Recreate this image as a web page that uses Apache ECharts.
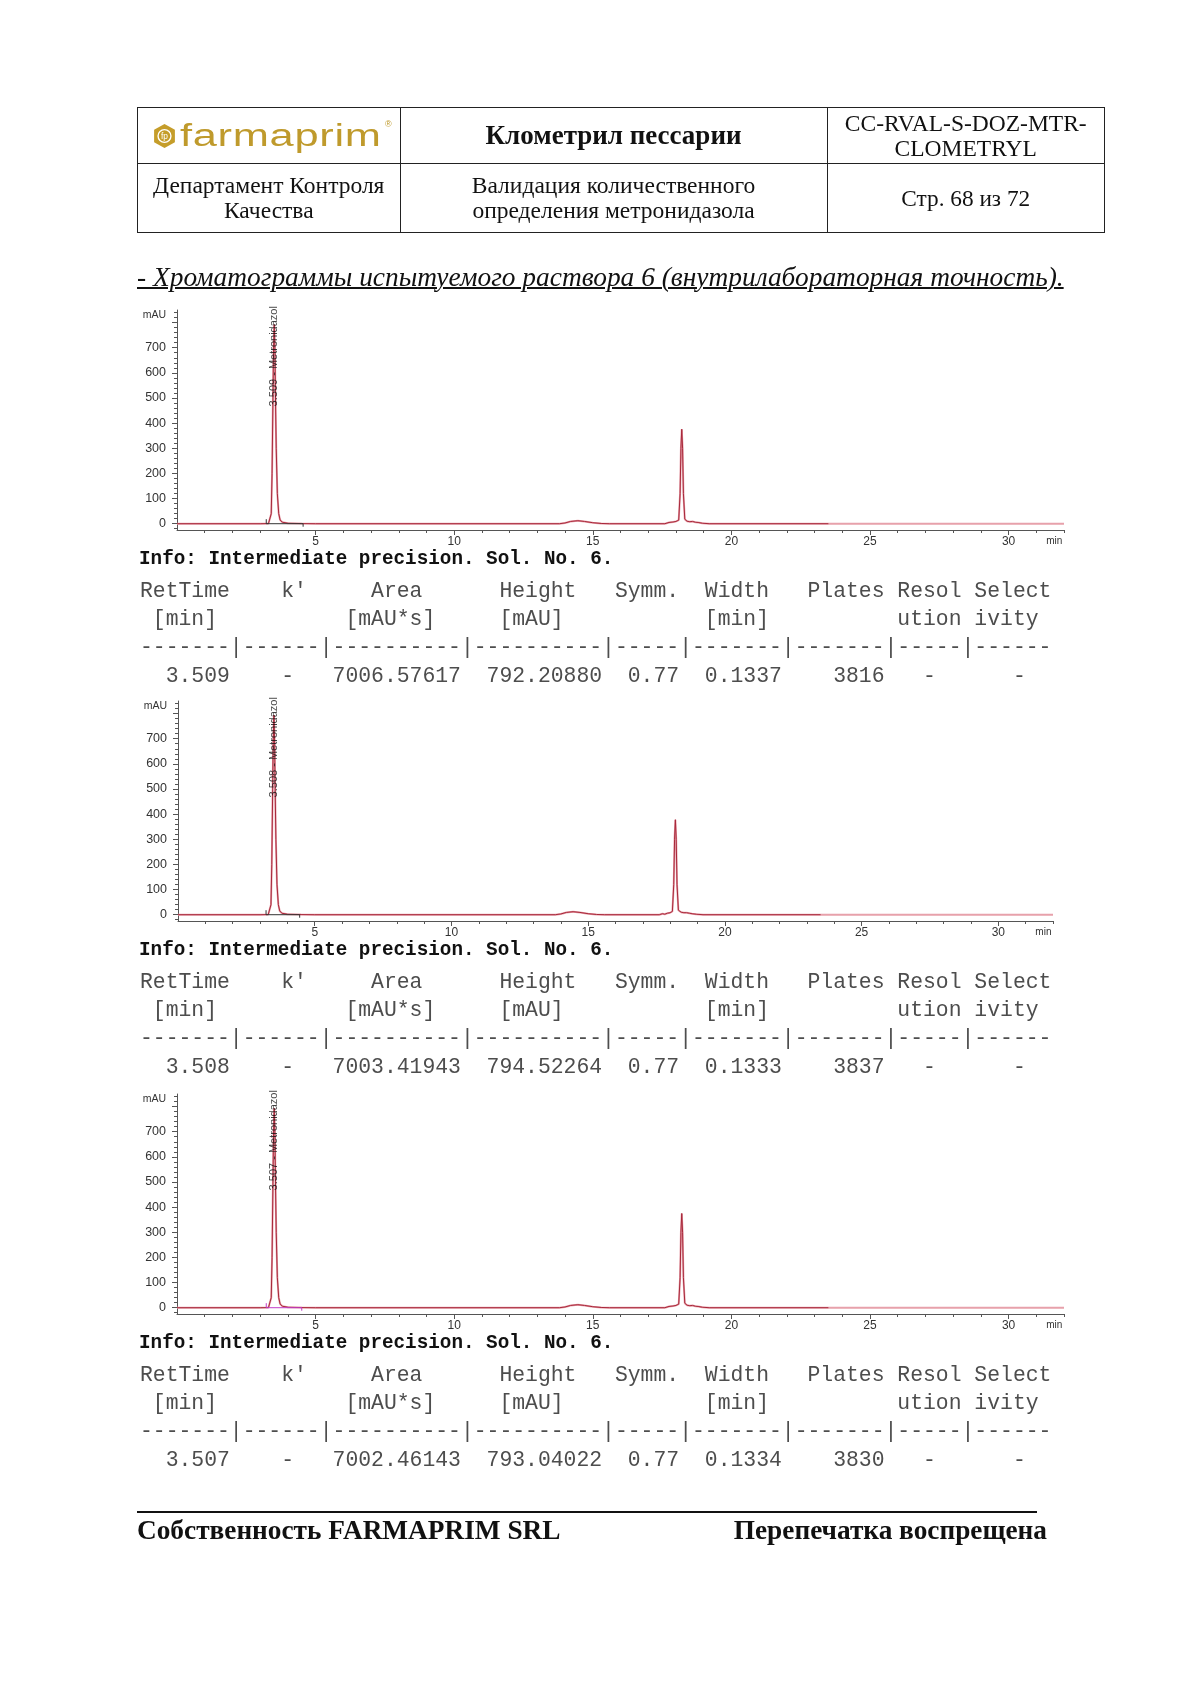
<!DOCTYPE html>
<html>
<head>
<meta charset="utf-8">
<script src="https://cdn.jsdelivr.net/npm/echarts@6/dist/echarts.min.js"></script>
<style>
  html, body { margin:0; padding:0; background:#fff; }
  body { width:1192px; height:1684px; position:relative; overflow:hidden; }
  #chart { position:absolute; left:0; top:0; width:1192px; height:1684px; }
  .abs { position:absolute; }
  table.hdr { position:absolute; left:137px; top:107px; width:968px; border-collapse:collapse; font-family:"Liberation Serif","Times New Roman",serif; color:#111; }
  table.hdr td { border:1.5px solid #222; text-align:center; padding:0; white-space:nowrap; }
  .serif { font-family:"Liberation Serif","Times New Roman",serif; color:#111; }
  .mono { font-family:"Liberation Mono","Courier New",monospace; white-space:pre; margin:0; position:absolute; }
  .row { font-size:21.4px; line-height:24px; color:#4d4d4d; left:140px; }
  .info { font-size:19.3px; line-height:24px; font-weight:bold; color:#111; left:139px; }
</style>
</head>
<body>
<div id="chart"></div>

<table class="hdr">
  <tr style="height:56px">
    <td style="width:262px">
      <div style="position:relative;display:flex;align-items:center;justify-content:flex-start;height:54px;padding-left:15px">
        <svg width="23" height="26" viewBox="0 0 22 25" style="margin-right:4px">
          <polygon points="11,1 21,6.5 21,18.5 11,24 1,18.5 1,6.5" fill="#c59d2a"/>
          <circle cx="11" cy="12.5" r="6.2" fill="none" stroke="#fff" stroke-width="1.3"/>
          <text x="11" y="15.5" text-anchor="middle" font-family="Liberation Sans" font-size="8" fill="#fff">fp</text>
        </svg>
        <span id="logo" style="display:inline-block;font-family:'Liberation Sans',sans-serif;font-size:31px;color:#bf9a2c;transform:scaleX(1.4);transform-origin:left center;letter-spacing:0.5px;text-align:left;font-weight:normal">farmaprim</span>
        <span style="position:absolute;left:247px;top:10px;font-family:'Liberation Sans';font-size:9px;color:#bf9a2c">®</span>
      </div>
    </td>
    <td style="width:428px;font-size:27px;font-weight:bold">Клометрил пессарии</td>
    <td style="width:277px;font-size:23.5px;line-height:25px">CC-RVAL-S-DOZ-MTR-<br>CLOMETRYL</td>
  </tr>
  <tr style="height:69px">
    <td style="font-size:23.5px;line-height:25px">Департамент Контроля<br>Качества</td>
    <td style="font-size:23.5px;line-height:25px">Валидация количественного<br>определения метронидазола</td>
    <td style="font-size:23.3px">Стр. 68 из 72</td>
  </tr>
</table>

<div class="abs serif" style="left:137px;top:261px;font-size:27.4px;line-height:32px;font-style:italic;text-decoration:underline;text-decoration-thickness:1.5px;white-space:nowrap">- Хроматограммы испытуемого раствора 6 (внутрилабораторная точность).</div>

<div id="tables"></div>

<div class="abs" style="left:137px;top:1511px;width:900px;border-top:2px solid #111"></div>
<div class="abs serif" style="left:137px;top:1515px;font-size:27.3px;line-height:30px;font-weight:bold;white-space:nowrap">Собственность FARMAPRIM SRL</div>
<div class="abs serif" style="right:145px;top:1515px;font-size:27.3px;line-height:30px;font-weight:bold;white-space:nowrap">Перепечатка воспрещена</div>

<script>
// ---------------- DATA ----------------
const compoundName = 'Metronidazol';
const infoText = 'Info: Intermediate precision. Sol. No. 6.';

// integration results per run
const retTimes = ['3.509', '3.508', '3.507'];
const kPrimes  = ['-', '-', '-'];
const areas    = ['7006.57617', '7003.41943', '7002.46143'];
const heights  = ['792.20880', '794.52264', '793.04022'];
const symms    = ['0.77', '0.77', '0.77'];
const widths   = ['0.1337', '0.1333', '0.1334'];
const plates   = ['3816', '3837', '3830'];
const resols   = ['-', '-', '-'];
const selects  = ['-', '-', '-'];

// chromatogram traces: [time (min), signal (mAU)]
const trace1 = [[0,0],[3.0,0],[3.3,0.5],[3.36,5],[3.40,40],[3.43,200],[3.46,480],[3.48,680],[3.509,792],[3.535,680],[3.55,520],[3.58,300],[3.62,120],[3.67,40],[3.72,15],[3.8,6],[4.0,2],[4.5,0.5],[5,0],[13.8,0],[14.0,3],[14.2,9],[14.46,12],[14.7,9],[15.0,4],[15.3,1],[15.6,0],[17.6,0],[17.75,5],[17.82,2],[17.9,7],[18.0,9],[18.1,14],[18.15,120],[18.18,300],[18.21,376],[18.24,300],[18.27,120],[18.32,18],[18.4,10],[18.5,8],[18.6,9],[18.7,6],[18.8,5],[18.95,2],[19.2,0],[23.5,0],[32,0]];
const trace2 = [[0,0],[3.0,0],[3.3,0.5],[3.36,5],[3.40,40],[3.43,200],[3.46,480],[3.48,680],[3.508,794],[3.535,680],[3.55,520],[3.58,300],[3.62,120],[3.67,40],[3.72,15],[3.8,6],[4.0,2],[4.5,0.5],[5,0],[13.8,0],[14.0,3],[14.2,9],[14.45,12],[14.7,9],[15.0,4],[15.3,1],[15.6,0],[17.6,0],[17.72,4],[17.8,2],[17.9,6],[18.0,8],[18.08,13],[18.13,120],[18.16,300],[18.19,378],[18.22,300],[18.25,120],[18.3,18],[18.4,10],[18.5,8],[18.6,8],[18.7,6],[18.8,4],[18.95,2],[19.2,0],[23.5,0],[32,0]];
const trace3 = [[0,0],[3.0,0],[3.3,0.5],[3.36,5],[3.40,40],[3.43,200],[3.46,480],[3.48,680],[3.507,793],[3.535,680],[3.55,520],[3.58,300],[3.62,120],[3.67,40],[3.72,15],[3.8,6],[4.0,2],[4.5,0.5],[5,0],[13.8,0],[14.0,3],[14.2,9],[14.46,12],[14.7,9],[15.0,4],[15.3,1],[15.6,0],[17.6,0],[17.75,5],[17.82,2],[17.9,7],[18.0,9],[18.1,14],[18.15,120],[18.18,300],[18.21,375],[18.24,300],[18.27,120],[18.32,18],[18.4,10],[18.5,8],[18.6,9],[18.7,6],[18.8,5],[18.95,2],[19.2,0],[23.5,0],[32,0]];
const traces = [trace1, trace2, trace3];

// integration baseline markers (start tick, baseline, end tick)
const integ1 = [[3.22,18],[3.22,0],[4.55,0],[4.55,-12]];
const integ2 = [[3.22,18],[3.22,0],[4.45,0],[4.45,-12]];
const integ3 = [[3.22,18],[3.22,0],[4.5,0],[4.5,-12]];
const integs = [integ1, integ2, integ3];
const integColors = ['#333333', '#333333', '#c03cc8'];

const labelLevel = 660;          // mAU level of the centre of the rotated peak label
const recolorAfter = 23.5;       // trace turns pale after this time (min)

// axis ticks and labels
const xMin = 0, xMax = 32;
const yMin = -25, yMax = 850;
const xLabelValues = [5, 10, 15, 20, 25, 30];
const xUnitAt = 31.65;
const xMajorTicks = [5, 10, 15, 20, 25, 30];
const xMinorTicks = [1,2,3,4,6,7,8,9,11,12,13,14,16,17,18,19,21,22,23,24,26,27,28,29,31,32];
const yLabelValues = [0, 100, 200, 300, 400, 500, 600, 700];
const yUnitAt = 830;
const yMajorTicks = [0, 100, 200, 300, 400, 500, 600, 700, 800];
const yMinorTicks = [-20,20,40,60,80,120,140,160,180,220,240,260,280,320,340,360,380,420,440,460,480,520,540,560,580,620,640,660,680,720,740,760,780,820,840];

// ---------------- TEXT TABLES ----------------
const rowCentres = [559, 591, 619, 647, 676];
const panelOffsets = [0, 391, 784];
const headerLine = 'RetTime    k\'     Area      Height   Symm.  Width   Plates Resol Select';
const unitLine   = ' [min]          [mAU*s]     [mAU]           [min]          ution ivity';
const dashLine   = '-------|------|----------|----------|-----|-------|-------|-----|------';
function valueLine(i) {
  return retTimes[i].padStart(7) + kPrimes[i].padStart(5) + areas[i].padStart(13) +
         heights[i].padStart(11) + symms[i].padStart(6) + widths[i].padStart(8) +
         plates[i].padStart(8) + resols[i].padStart(4) + selects[i].padStart(7);
}
const tbl = document.getElementById('tables');
panelOffsets.forEach((off, i) => {
  const lines = [[infoText, 'info'], [headerLine, 'row'], [unitLine, 'row'], [dashLine, 'row'], [valueLine(i), 'row']];
  lines.forEach((l, r) => {
    const p = document.createElement('pre');
    p.className = 'mono ' + l[1];
    p.style.top = (rowCentres[r] + off - 12) + 'px';
    p.textContent = l[0];
    tbl.appendChild(p);
  });
});

// ---------------- CHART ----------------
const grids = [
  {left:177, top:310, width:887, height:220},
  {left:178, top:701, width:875, height:220},
  {left:177, top:1094, width:887, height:220}
];
const axisCol = '#555';
const txtCol = '#333';
const xAxes = [], yAxes = [], series = [];
grids.forEach((g, i) => {
  xAxes.push({
    type:'value', gridIndex:i, min:xMin, max:xMax, position:'bottom',
    axisLine:{show:true, onZero:false, lineStyle:{color:axisCol, width:1}},
    axisTick:{show:true, customValues:xMajorTicks, length:5, lineStyle:{color:axisCol}},
    axisLabel:{show:true, customValues:xLabelValues.concat([xUnitAt]), margin:6, color:txtCol,
      fontFamily:'Liberation Sans', fontSize:12,
      formatter: v => (Math.abs(v - xUnitAt) < 1e-6 ? '{u|min}' : String(v)),
      rich:{u:{fontSize:10, color:txtCol, fontFamily:'Liberation Sans'}}},
    splitLine:{show:false}
  });
  xAxes.push({
    type:'value', gridIndex:i, min:xMin, max:xMax, position:'bottom',
    axisLine:{show:false, onZero:false},
    axisTick:{show:true, customValues:xMinorTicks, length:3, lineStyle:{color:axisCol}},
    axisLabel:{show:false}, splitLine:{show:false}
  });
  yAxes.push({
    type:'value', gridIndex:i, min:yMin, max:yMax, position:'left',
    axisLine:{show:true, onZero:false, lineStyle:{color:axisCol, width:1}},
    axisTick:{show:true, customValues:yMajorTicks, length:5, lineStyle:{color:axisCol}},
    axisLabel:{show:true, customValues:yLabelValues.concat([yUnitAt]), margin:11, color:txtCol,
      fontFamily:'Liberation Sans', fontSize:12.5,
      formatter: v => (v === yUnitAt ? '{u|mAU}' : String(v)),
      rich:{u:{fontSize:10.5, color:txtCol, fontFamily:'Liberation Sans'}}},
    splitLine:{show:false}
  });
  yAxes.push({
    type:'value', gridIndex:i, min:yMin, max:yMax, position:'left',
    axisLine:{show:false, onZero:false},
    axisTick:{show:true, customValues:yMinorTicks, length:3, lineStyle:{color:axisCol}},
    axisLabel:{show:false}, splitLine:{show:false}
  });
  const xi = i * 2, yi = i * 2;
  // pale full-length trace
  series.push({
    type:'line', xAxisIndex:xi, yAxisIndex:yi, data:traces[i], symbol:'none',
    lineStyle:{color:'#e7a1ab', width:2}, silent:true, z:2
  });
  // darker red trace up to the recolour point
  series.push({
    type:'line', xAxisIndex:xi, yAxisIndex:yi, data:traces[i].filter(p => p[0] <= recolorAfter), symbol:'none',
    lineStyle:{color:'#a8283a', width:1}, silent:true, z:3
  });
  // integration baseline marker
  series.push({
    type:'line', xAxisIndex:xi, yAxisIndex:yi, data:integs[i], symbol:'none',
    lineStyle:{color:integColors[i], width:1}, silent:true, z:4
  });
  // rotated peak label
  series.push({
    type:'scatter', xAxisIndex:xi, yAxisIndex:yi, data:[[parseFloat(retTimes[i]), labelLevel]],
    symbolSize:0.1, silent:true, z:5,
    label:{show:true, position:'inside', rotate:90, align:'center', verticalAlign:'middle',
      formatter: retTimes[i] + ' - ' + compoundName, fontFamily:'Liberation Sans', fontSize:11, color:'#111',
      offset:[1.5, 0]}
  });
});

const chart = echarts.init(document.getElementById('chart'), null, {renderer:'canvas'});
chart.setOption({
  animation:false,
  backgroundColor:'transparent',
  grid:grids,
  xAxis:xAxes,
  yAxis:yAxes,
  series:series
});
</script>
</body>
</html>
